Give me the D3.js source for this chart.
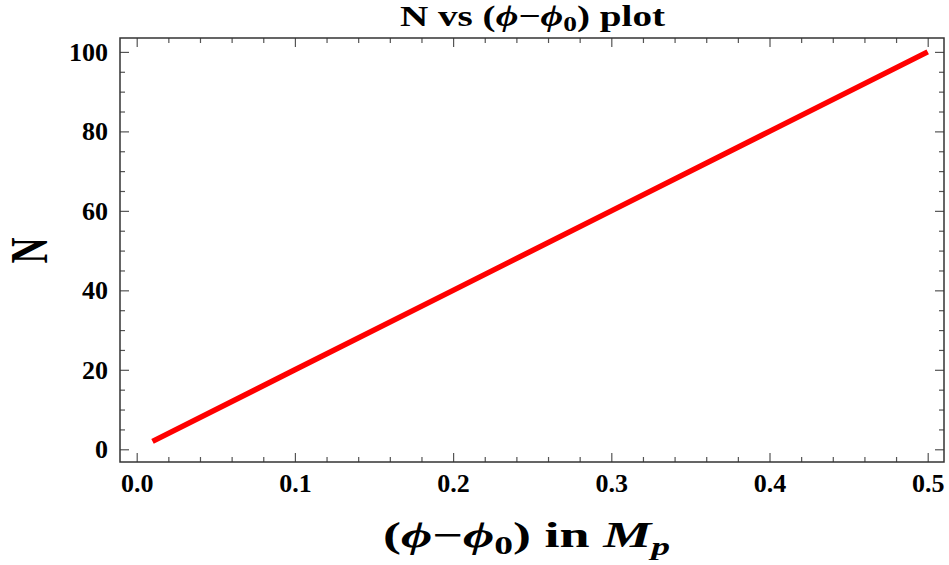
<!DOCTYPE html>
<html><head><meta charset="utf-8">
<script src="https://cdn.jsdelivr.net/npm/d3@7"></script>
<style>body{margin:0;background:#fff}svg{display:block}text{font-family:"Liberation Serif","DejaVu Serif",serif;font-weight:bold}</style>
</head><body><svg id="c" width="949" height="565"></svg>
<script>
const phiDiff = [0.01, 0.1, 0.2, 0.3, 0.4, 0.5];
const Nvals = [2, 20, 40, 60, 80, 100];
const xTicks = [0.0, 0.1, 0.2, 0.3, 0.4, 0.5];
const yTicks = [0, 20, 40, 60, 80, 100];
const xMinor = d3.range(0, 0.52, 0.02);
const yMinor = d3.range(0, 104, 5);

const W = 949, H = 565;
const m = {l:120, t:38, r:5, b:103};
const svg = d3.select("#c");
const x = d3.scaleLinear().domain([-0.01056, 0.5103]).range([m.l, W - m.r]);
const y = d3.scaleLinear().domain([-3.2, 103.5]).range([H - m.b, m.t]);

const tickCol = "#555";
function ticks(axisFn, scale, vals, len, fmt, transform, showLabel) {
  const a = axisFn(scale).tickValues(vals).tickSizeInner(-len).tickSizeOuter(0).tickPadding(12)
    .tickFormat(showLabel ? fmt : () => "");
  const g = svg.append("g").attr("transform", transform).call(a);
  g.select(".domain").remove();
  g.selectAll(".tick line").attr("stroke", tickCol).attr("stroke-width", 1.2);
  g.selectAll(".tick text").attr("font-size", 26).attr("fill", "#000")
    .style("font-family", '"Liberation Serif",serif').style("font-weight", "bold");
  return g;
}
const majX = xTicks, majY = yTicks;
const minX = xMinor.filter(v => !majX.some(t => Math.abs(t - v) < 1e-9));
const minY = yMinor.filter(v => !majY.some(t => Math.abs(t - v) < 1e-9));
const fx = d3.format(".1f"), fy = d3.format("d");
ticks(d3.axisBottom, x, majX, 9, fx, `translate(0,${H - m.b})`, true);
ticks(d3.axisBottom, x, minX, 5, fx, `translate(0,${H - m.b})`, false);
ticks(d3.axisTop, x, majX, 9, fx, `translate(0,${m.t})`, false);
ticks(d3.axisTop, x, minX, 5, fx, `translate(0,${m.t})`, false);
ticks(d3.axisLeft, y, majY, 9, fy, `translate(${m.l},0)`, true);
ticks(d3.axisLeft, y, minY, 5, fy, `translate(${m.l},0)`, false);
ticks(d3.axisRight, y, majY, 9, fy, `translate(${W - m.r},0)`, false);
ticks(d3.axisRight, y, minY, 5, fy, `translate(${W - m.r},0)`, false);

svg.append("rect").attr("x", m.l).attr("y", m.t).attr("width", W - m.r - m.l).attr("height", H - m.b - m.t)
  .attr("fill", "none").attr("stroke", "#333").attr("stroke-width", 1.5);

const data = phiDiff.map((v, i) => [v, Nvals[i]]);
svg.append("path").datum(data)
  .attr("d", d3.line().x(d => x(d[0])).y(d => y(d[1])))
  .attr("fill", "none").attr("stroke", "#ff0000").attr("stroke-width", 5.5);

// title
const t = svg.append("text").attr("x", 400).attr("y", 26).attr("font-size", 30)
  .attr("textLength", 265).attr("lengthAdjust", "spacingAndGlyphs");
t.append("tspan").text("N vs (");
t.append("tspan").attr("font-style", "italic").text("ϕ");
t.append("tspan").text("−");
t.append("tspan").attr("font-style", "italic").text("ϕ");
t.append("tspan").attr("font-size", 21).attr("dy", 5).text("0");
t.append("tspan").attr("dy", -5).text(") plot");

// x label
const xl = svg.append("text").attr("x", 383).attr("y", 547).attr("font-size", 36)
  .attr("textLength", 287).attr("lengthAdjust", "spacingAndGlyphs");
xl.append("tspan").text("(");
xl.append("tspan").attr("font-style", "italic").text("ϕ");
xl.append("tspan").text("−");
xl.append("tspan").attr("font-style", "italic").text("ϕ");
xl.append("tspan").attr("font-size", 25).attr("dy", 7).text("0");
xl.append("tspan").attr("dy", -7).text(") in ");
xl.append("tspan").attr("font-style", "italic").text("M");
xl.append("tspan").attr("font-style", "italic").attr("font-size", 25).attr("dy", 8).text("p");

// y label
svg.append("text").attr("transform", "translate(47,250.5) rotate(-90) scale(0.68,1)").attr("text-anchor", "middle")
  .attr("font-size", 53).text("N");
</script></body></html>
